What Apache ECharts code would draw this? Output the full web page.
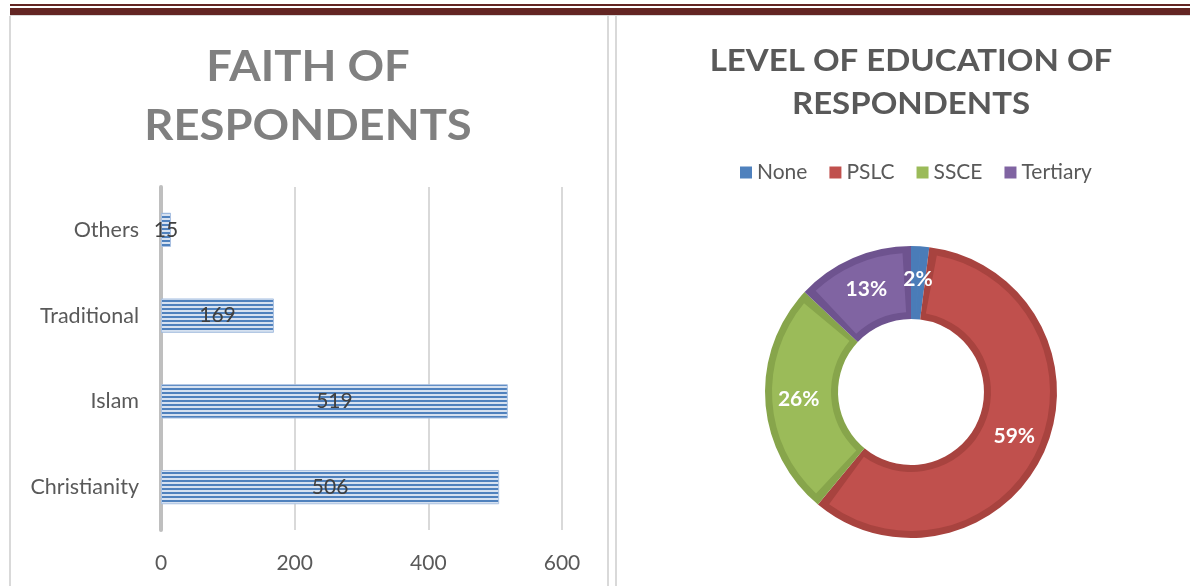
<!DOCTYPE html>
<html>
<head>
<meta charset="utf-8">
<script src="https://cdn.jsdelivr.net/npm/echarts@6/dist/echarts.min.js"></script>
<style>
  html, body { margin: 0; padding: 0; background: #fff; }
  #main { width: 1190px; height: 586px; }
</style>
</head>
<body>
<div id="main"></div>
<script>
// faith of respondents (bar, bottom to top)
const faithCats = ["Christianity", "Islam", "Traditional", "Others"];
const faithValues = [506, 519, 169, 15];
const faithTicks = [0, 200, 400, 600];

// level of education (donut, percent)
const eduNames = ["None", "PSLC", "SSCE", "Tertiary"];
const eduValues = [2, 59, 26, 13];
const eduColors = ["#4f81bd", "#c0504d", "#9bbb59", "#8064a2"];
const eduDark = ["#4a7cb8", "#a8433f", "#87a54b", "#6e538f"];

const FONT = "Lato";

// striped fill for the bars
const stripe = document.createElement("canvas");
stripe.width = 4;
stripe.height = 4;
const sctx = stripe.getContext("2d");
sctx.fillStyle = "#d6e1f0";
sctx.fillRect(0, 0, 4, 4);
sctx.fillStyle = "#4f81bd";
sctx.fillRect(0, 0, 4, 2);

const chart = echarts.init(document.getElementById("main"));

const pieCenter = [911, 392];

chart.setOption({
  backgroundColor: "#fff",
  animation: false,
  legend: {
    data: eduNames.map((n, i) => ({ name: n, itemStyle: { color: eduColors[i] } })),
    left: 735,
    top: 157,
    icon: "rect",
    itemWidth: 12,
    itemHeight: 12,
    itemGap: 22,
    textStyle: { fontFamily: FONT, fontSize: 21, color: "#595959" },
  },
  grid: { left: 161, right: 628, top: 187, bottom: 56 },
  xAxis: {
    type: "value",
    min: faithTicks[0],
    max: faithTicks[faithTicks.length - 1],
    interval: 200,
    axisLine: { show: false },
    axisTick: { show: false },
    axisLabel: { fontFamily: FONT, fontSize: 21, color: "#595959", margin: 23 },
    splitLine: { lineStyle: { color: "#d9d9d9", width: 2 } },
  },
  yAxis: {
    type: "category",
    data: faithCats,
    axisLine: { show: true, lineStyle: { color: "#bfbfbf", width: 4 } },
    axisTick: { show: false },
    axisLabel: { fontFamily: FONT, fontSize: 21.5, color: "#595959", margin: 22 },
  },
  series: [
    {
      name: "Faith",
      type: "bar",
      data: faithValues,
      barWidth: "40%",
      itemStyle: {
        color: { image: stripe, repeat: "repeat" },
        borderColor: "#a9c1e2",
        borderWidth: 1,
      },
      label: {
        show: true,
        position: "inside",
        fontFamily: FONT,
        fontSize: 21,
        color: "#404040",
      },
    },
    // darker rim (full ring)
    {
      name: "EducationRim",
      type: "pie",
      z: 2,
      center: pieCenter,
      radius: [73, 146],
      startAngle: 90,
      clockwise: true,
      silent: true,
      data: eduNames.map((n, i) => ({
        name: n,
        value: eduValues[i],
        itemStyle: { color: eduDark[i] },
      })),
      itemStyle: { borderWidth: 0 },
      label: { show: false },
      labelLine: { show: false },
    },
    // lighter inner part of each slice, inset from the rim
    {
      name: "Education",
      type: "pie",
      z: 3,
      center: pieCenter,
      radius: [80, 139],
      startAngle: 90,
      clockwise: true,
      padAngle: 7,
      silent: true,
      data: eduNames.map((n, i) => ({
        name: n,
        value: eduValues[i],
        itemStyle: { color: eduColors[i] },
      })),
      itemStyle: { borderWidth: 0 },
      label: { show: false },
      labelLine: { show: false },
    },
    // percentage labels on top
    {
      name: "EducationLabels",
      type: "pie",
      z: 4,
      center: pieCenter,
      radius: [73, 146],
      startAngle: 90,
      clockwise: true,
      silent: true,
      data: eduNames.map((n, i) => ({ name: n, value: eduValues[i] })),
      itemStyle: { color: "rgba(0,0,0,0)", borderWidth: 0 },
      label: {
        show: true,
        position: "inside",
        formatter: "{c}%",
        fontFamily: FONT,
        fontSize: 21,
        fontWeight: "bold",
        color: "#fff",
      },
      labelLine: { show: false },
    },
  ],
  graphic: [
    // titles (stretched a little to match the spaced-out lettering)
    {
      type: "text",
      x: 308,
      y: 38,
      scaleX: 1.08,
      silent: true,
      style: {
        text: "FAITH OF\nRESPONDENTS",
        align: "center",
        verticalAlign: "top",
        fontFamily: FONT,
        fontSize: 42,
        fontWeight: "bold",
        fill: "#808080",
        lineHeight: 59,
      },
    },
    {
      type: "text",
      x: 911,
      y: 40,
      scaleX: 1.1,
      silent: true,
      style: {
        text: "LEVEL OF EDUCATION OF\nRESPONDENTS",
        align: "center",
        verticalAlign: "top",
        fontFamily: FONT,
        fontSize: 30,
        fontWeight: "bold",
        fill: "#595959",
        lineHeight: 43,
      },
    },
    // page frame
    { type: "rect", shape: { x: 10, y: 4, width: 1180, height: 2 }, style: { fill: "#632523" }, silent: true },
    { type: "rect", shape: { x: 10, y: 8, width: 1180, height: 7 }, style: { fill: "#632523" }, silent: true },
    { type: "rect", shape: { x: 10, y: 15, width: 1180, height: 1 }, style: { fill: "#d9d9d9" }, silent: true },
    { type: "rect", shape: { x: 9, y: 16, width: 2, height: 570 }, style: { fill: "#d9d9d9" }, silent: true },
    { type: "rect", shape: { x: 607, y: 15, width: 2, height: 571 }, style: { fill: "#d9d9d9" }, silent: true },
    { type: "rect", shape: { x: 615, y: 15, width: 2, height: 571 }, style: { fill: "#d9d9d9" }, silent: true },
  ],
});
</script>
</body>
</html>
